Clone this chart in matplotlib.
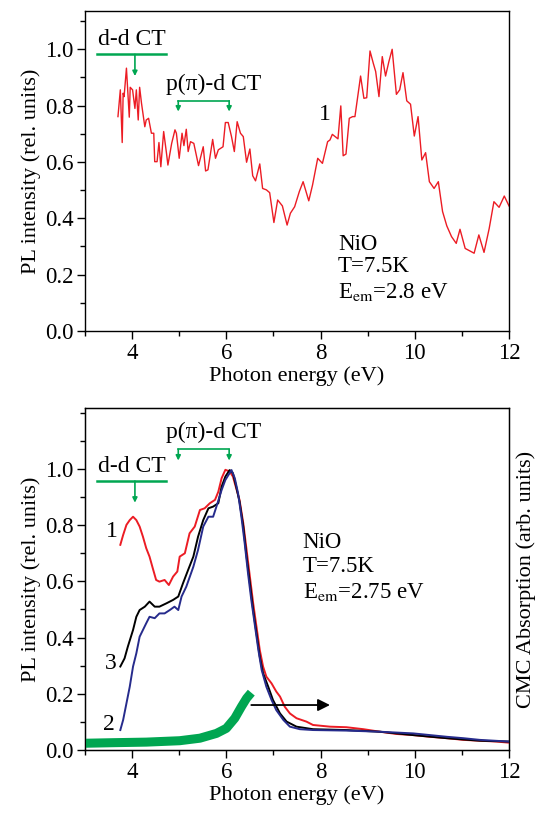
import numpy as np
import matplotlib
matplotlib.use('Agg')
import matplotlib.pyplot as plt
from matplotlib.ticker import MultipleLocator, FixedLocator, FormatStrFormatter

plt.rcParams['font.family'] = ['Liberation Serif', 'DejaVu Serif']
plt.rcParams['mathtext.fontset'] = 'stix'

RED = '#ec1c24'
BLUE = '#262b8c'
GREEN = '#00a651'

# top panel: PL excitation spectrum, curve 1 (E_em = 2.8 eV)
top_e = [3.70, 3.75, 3.79, 3.81, 3.83, 3.88, 3.94, 3.96, 4.01, 4.06, 4.09, 4.13,
         4.16, 4.20, 4.27, 4.30, 4.35, 4.41, 4.46, 4.48, 4.53, 4.57, 4.61, 4.67,
         4.73, 4.76, 4.84, 4.91, 4.94, 5.00, 5.06, 5.10, 5.15, 5.19, 5.24, 5.31,
         5.41, 5.51, 5.56, 5.61, 5.71, 5.77, 5.83, 5.93, 5.98, 6.04, 6.11, 6.17,
         6.23, 6.30, 6.36, 6.43, 6.50, 6.56, 6.62, 6.71, 6.77, 6.85, 6.92, 7.01,
         7.09, 7.19, 7.29, 7.36, 7.45, 7.55, 7.63, 7.75, 7.83, 7.94, 8.04, 8.15,
         8.20, 8.25, 8.37, 8.43, 8.48, 8.54, 8.61, 8.68, 8.73, 8.85, 8.92, 8.98,
         9.05, 9.12, 9.17, 9.24, 9.31, 9.38, 9.45, 9.52, 9.61, 9.68, 9.75, 9.83,
         9.91, 9.99, 10.07, 10.15, 10.23, 10.31, 10.41, 10.50, 10.59, 10.68, 10.78,
         10.88, 10.96, 11.07, 11.16, 11.26, 11.36, 11.47, 11.58, 11.68, 11.79,
         11.90, 12.00]
top_pl = [0.761, 0.856, 0.669, 0.844, 0.832, 0.933, 0.759, 0.865, 0.856, 0.790,
          0.856, 0.749, 0.865, 0.808, 0.725, 0.749, 0.755, 0.702, 0.702, 0.601,
          0.601, 0.669, 0.583, 0.708, 0.631, 0.589, 0.666, 0.714, 0.702, 0.613,
          0.702, 0.658, 0.716, 0.637, 0.672, 0.666, 0.587, 0.654, 0.568, 0.572,
          0.680, 0.613, 0.643, 0.654, 0.740, 0.740, 0.690, 0.637, 0.743, 0.702,
          0.690, 0.599, 0.646, 0.551, 0.533, 0.593, 0.506, 0.501, 0.491, 0.385,
          0.465, 0.444, 0.376, 0.418, 0.441, 0.495, 0.530, 0.462, 0.518, 0.613,
          0.595, 0.672, 0.678, 0.698, 0.682, 0.799, 0.622, 0.628, 0.755, 0.761,
          0.761, 0.905, 0.826, 0.828, 0.994, 0.950, 0.921, 0.832, 0.974, 0.905,
          0.956, 1.000, 0.840, 0.856, 0.917, 0.817, 0.805, 0.692, 0.761, 0.607,
          0.633, 0.530, 0.506, 0.530, 0.424, 0.373, 0.335, 0.311, 0.361, 0.293,
          0.285, 0.276, 0.341, 0.279, 0.364, 0.459, 0.439, 0.479, 0.444]

# bottom panel: curves 1 (red), 3 (black), 2 (blue), E_em = 2.75 eV
c1_e = [3.75, 3.81, 3.88, 3.95, 4.02, 4.09, 4.16, 4.23, 4.30, 4.37, 4.44, 4.51,
        4.58, 4.69, 4.78, 4.87, 4.96, 5.01, 5.12, 5.22, 5.33, 5.44, 5.54, 5.65,
        5.76, 5.83, 5.90, 5.98, 6.07, 6.14, 6.21, 6.28, 6.36, 6.43, 6.50, 6.57,
        6.64, 6.71, 6.78, 6.85, 6.96, 7.06, 7.14, 7.24, 7.35, 7.49, 7.70, 7.84,
        8.20, 8.55, 8.91, 9.26, 9.61, 9.97, 10.32, 10.68, 11.03, 11.38, 11.73, 12.00]
c1_pl = [0.730, 0.765, 0.801, 0.818, 0.830, 0.818, 0.795, 0.759, 0.718, 0.688,
         0.646, 0.605, 0.599, 0.605, 0.587, 0.617, 0.635, 0.688, 0.700, 0.771,
         0.795, 0.854, 0.860, 0.878, 0.890, 0.919, 0.967, 0.997, 0.991, 0.973,
         0.931, 0.890, 0.807, 0.712, 0.617, 0.522, 0.439, 0.356, 0.297, 0.261,
         0.237, 0.208, 0.190, 0.154, 0.130, 0.113, 0.101, 0.089, 0.083, 0.081,
         0.074, 0.065, 0.057, 0.053, 0.047, 0.042, 0.036, 0.033, 0.030, 0.026]

c3_e = [3.75, 3.84, 3.91, 4.02, 4.09, 4.16, 4.27, 4.37, 4.48, 4.58, 4.73, 4.87,
        4.98, 5.08, 5.19, 5.30, 5.40, 5.51, 5.62, 5.72, 5.83, 5.90, 5.98, 6.07,
        6.14, 6.21, 6.28, 6.36, 6.43, 6.50, 6.57, 6.64, 6.71, 6.78, 6.89, 6.99,
        7.14, 7.28, 7.49, 7.84, 8.55, 9.26, 9.97, 10.68, 11.38, 12.00]
c3_pl = [0.297, 0.326, 0.368, 0.427, 0.474, 0.498, 0.510, 0.528, 0.510, 0.510,
         0.522, 0.534, 0.546, 0.593, 0.641, 0.688, 0.759, 0.818, 0.860, 0.866,
         0.878, 0.937, 0.973, 0.996, 0.985, 0.937, 0.884, 0.795, 0.688, 0.593,
         0.498, 0.415, 0.332, 0.273, 0.225, 0.178, 0.130, 0.101, 0.083, 0.074,
         0.071, 0.065, 0.053, 0.042, 0.033, 0.030]

c2_e = [3.75, 3.81, 3.88, 3.95, 4.02, 4.09, 4.16, 4.23, 4.30, 4.37, 4.48, 4.58,
        4.69, 4.80, 4.90, 4.98, 5.05, 5.15, 5.30, 5.40, 5.51, 5.62, 5.72, 5.79,
        5.90, 5.98, 6.11, 6.18, 6.25, 6.32, 6.39, 6.46, 6.53, 6.61, 6.68, 6.75,
        6.85, 6.96, 7.06, 7.21, 7.35, 7.56, 7.84, 8.55, 9.26, 9.97, 10.68, 11.03,
        11.38, 12.00]
c2_pl = [0.071, 0.107, 0.166, 0.225, 0.297, 0.344, 0.403, 0.427, 0.451, 0.474,
         0.469, 0.486, 0.486, 0.498, 0.510, 0.498, 0.546, 0.581, 0.652, 0.712,
         0.795, 0.830, 0.830, 0.866, 0.925, 0.961, 0.996, 0.967, 0.913, 0.830,
         0.735, 0.629, 0.534, 0.439, 0.356, 0.285, 0.225, 0.178, 0.142, 0.107,
         0.083, 0.074, 0.071, 0.069, 0.065, 0.059, 0.047, 0.042, 0.036, 0.030]

# CMC absorption (right axis, arb. units)
cmc_e = [3.0, 3.6, 4.3, 5.01, 5.44, 5.79, 6.0, 6.18, 6.32, 6.43, 6.53]
cmc_abs = [0.024, 0.026, 0.028, 0.033, 0.042, 0.059, 0.077, 0.113, 0.154, 0.184, 0.204]

y_ticks = [0.0, 0.2, 0.4, 0.6, 0.8, 1.0]


def style_axes(ax, ymax):
    ax.set_xlim(3, 12)
    ax.set_ylim(0, ymax)
    ax.xaxis.set_major_locator(MultipleLocator(2))
    ax.xaxis.set_minor_locator(MultipleLocator(1))
    ax.yaxis.set_major_locator(FixedLocator(y_ticks))
    ax.yaxis.set_minor_locator(MultipleLocator(0.1))
    ax.yaxis.set_major_formatter(FormatStrFormatter('%.1f'))
    ax.tick_params(which='both', direction='out', width=1, labelsize=16.5)
    ax.tick_params(which='major', length=6)
    ax.tick_params(which='minor', length=3.5)
    ax.tick_params(axis='y', pad=2)
    ax.tick_params(axis='x', pad=3)
    for s in ax.spines.values():
        s.set_linewidth(1)
    ax.set_xlabel('Photon energy (eV)', fontsize=16, labelpad=1)
    ax.set_ylabel('PL intensity (rel. units)', fontsize=16, labelpad=3)


def down_arrow(ax, x, y0, y1):
    ax.annotate('', xy=(x, y1), xytext=(x, y0),
                arrowprops=dict(arrowstyle='-|>', color=GREEN, lw=1.2,
                                mutation_scale=7, shrinkA=0, shrinkB=0))


fig = plt.figure(figsize=(5.42, 8.13), dpi=100)
ax1 = fig.add_axes([0.1568, 0.5929, 0.7823, 0.3936])
ax2 = fig.add_axes([0.1568, 0.0775, 0.7823, 0.4207])

# ---- top panel
ax1.plot(top_e, top_pl, color=RED, lw=1.0)
style_axes(ax1, 1.136)

ax1.text(4.0, 1.033, 'd-d CT', fontsize=17, ha='center', va='center')
ax1.plot([3.26, 4.73], [0.982, 0.982], color=GREEN, lw=1.8)
down_arrow(ax1, 4.06, 0.982, 0.905)
ax1.text(5.73, 0.877, 'p(π)-d CT', fontsize=17, ha='center', va='center')
ax1.plot([4.98, 6.06], [0.817, 0.817], color=GREEN, lw=1.2)
for xb in [4.98, 6.06]:
    down_arrow(ax1, xb, 0.817, 0.779)
ax1.text(8.09, 0.767, '1', fontsize=17, ha='center', va='center')
ax1.text(8.37, 0.308, 'NiO', fontsize=16.5, ha='left', va='center')
ax1.text(8.37, 0.228, 'T=7.5K', fontsize=16.5, ha='left', va='center')
ax1.text(8.37, 0.140, r'E$_{\rm em}$=2.8 eV', fontsize=16.5, ha='left', va='center')

# ---- bottom panel
ax2.plot(c1_e, c1_pl, color=RED, lw=1.4, zorder=3)
ax2.plot(c3_e, c3_pl, color='black', lw=1.4, zorder=3)
ax2.plot(c2_e, c2_pl, color=BLUE, lw=1.4, zorder=4)
style_axes(ax2, 1.217)

ax2r = ax2.twinx()
ax2r.set_ylim(0, 1.217)
ax2r.set_yticks([])
ax2r.plot(cmc_e, cmc_abs, color=GREEN, lw=6.5, solid_capstyle='butt', zorder=2)
ax2r.set_ylabel('CMC Absorption (arb. units)', fontsize=16, labelpad=5)
ax2r.annotate('', xy=(8.2, 0.16), xytext=(6.53, 0.16),
              arrowprops=dict(arrowstyle='-|>', color='black', lw=1.3,
                              mutation_scale=18, shrinkA=0, shrinkB=0))

ax2.text(5.73, 1.129, 'p(π)-d CT', fontsize=17, ha='center', va='center')
ax2.plot([4.98, 6.06], [1.070, 1.070], color=GREEN, lw=1.2)
for xb in [4.98, 6.06]:
    down_arrow(ax2, xb, 1.070, 1.030)
ax2.text(4.0, 1.008, 'd-d CT', fontsize=17, ha='center', va='center')
ax2.plot([3.26, 4.73], [0.957, 0.957], color=GREEN, lw=1.8)
down_arrow(ax2, 4.06, 0.957, 0.880)
ax2.text(3.58, 0.779, '1', fontsize=17, ha='center', va='center')
ax2.text(3.55, 0.308, '3', fontsize=17, ha='center', va='center')
ax2.text(3.51, 0.089, '2', fontsize=17, ha='center', va='center')
ax2.text(7.62, 0.738, 'NiO', fontsize=16.5, ha='left', va='center')
ax2.text(7.62, 0.652, 'T=7.5K', fontsize=16.5, ha='left', va='center')
ax2.text(7.62, 0.563, r'E$_{\rm em}$=2.75 eV', fontsize=16.5, ha='left', va='center')

fig.savefig('out.png', dpi=100)
